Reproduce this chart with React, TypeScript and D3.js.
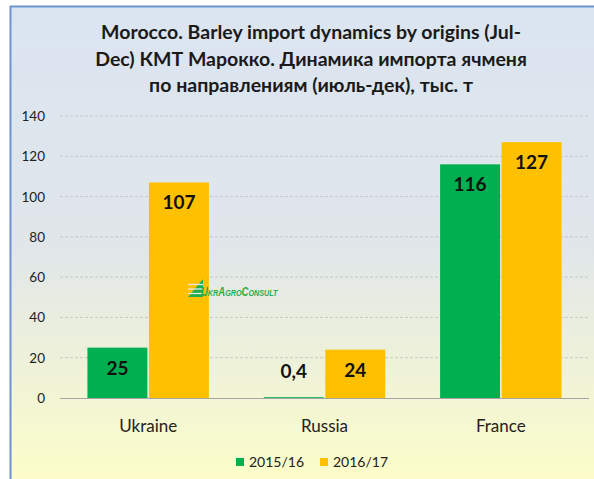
import React from "react";
import * as d3 from "d3";

const categories = ["Ukraine", "Russia", "France"];
const seriesNames = ["2015/16", "2016/17"];
const values2015 = [25, 0.4, 116];
const values2016 = [107, 24, 127];
const labels2015 = ["25", "0,4", "116"];
const labels2016 = ["107", "24", "127"];
const yTicks = [0, 20, 40, 60, 80, 100, 120, 140];
const titleLines = [
  "Morocco. Barley import dynamics by origins (Jul-",
  "Dec) КМТ Марокко. Динамика импорта ячменя",
  "по направлениям (июль-дек), тыс. т",
];
const colors = ["#00b050", "#ffc000"];

export default function App() {
  const W = 594, H = 479;
  const left = 60, right = 589, top = 116, bottom = 398;
  const x = d3.scaleBand<string>().domain(categories).range([left, right]).paddingInner(0).paddingOuter(0);
  const inner = d3.scaleBand<string>().domain(seriesNames).range([0, x.bandwidth()]).paddingInner(0.025).paddingOuter(0.446);
  const y = d3.scaleLinear().domain([0, 140]).range([bottom, top]);
  const series = [values2015, values2016];
  const labels = [labels2015, labels2016];
  const font = "Lato, 'Open Sans', sans-serif";

  return (
    <svg width={W} height={H} style={{ position: "absolute", left: 0, top: 0 }} fontFamily={font}>
      <defs>
        <linearGradient id="bg" x1="0" y1="0" x2="0" y2="1">
          <stop offset="0" stopColor="#dbe5f1" />
          <stop offset="0.5" stopColor="#e0e6ea" />
          <stop offset="1" stopColor="#fcfdc9" />
        </linearGradient>
      </defs>
      <rect x={10} y={6} width={W - 10} height={H - 6} fill="url(#bg)" />
      <line x1={10.5} y1={6} x2={10.5} y2={H} stroke="#6c93cf" strokeWidth={2} />
      <line x1={10} y1={6.5} x2={W} y2={6.5} stroke="#6c93cf" strokeWidth={2} />
      {titleLines.map((t, i) => (
        <text key={i} x={311} y={39 + i * 26.5} textAnchor="middle" fontSize={19.5} fontWeight="bold" fill="#1a1a1a">
          {t}
        </text>
      ))}
      {yTicks.map((t) => (
        <g key={t}>
          {t > 0 && (
            <line x1={left} x2={right} y1={y(t)} y2={y(t)} stroke="#c6c9cc" strokeDasharray="3,2" strokeWidth={1} />
          )}
          <text x={45} y={y(t) + 5} textAnchor="end" fontSize={13.5} fill="#222">
            {t}
          </text>
        </g>
      ))}
      {categories.map((c, ci) =>
        series.map((s, si) => {
          const bx = (x(c) as number) + (inner(seriesNames[si]) as number);
          const bw = inner.bandwidth();
          const v = s[ci];
          const labelY = y(v) + 27;
          return (
            <g key={c + si}>
              <rect x={bx} y={y(v)} width={bw} height={bottom - y(v)} fill={colors[si]} />
              <text x={bx + bw / 2} y={v < 5 ? y(24) + 28 : labelY} textAnchor="middle" fontSize={19} fontWeight="bold" fill="#111">
                {labels[si][ci]}
              </text>
            </g>
          );
        })
      )}
      <line x1={left} x2={right} y1={bottom + 0.5} y2={bottom + 0.5} stroke="#a6a6a6" strokeWidth={1} />
      {categories.map((c) => (
        <text key={c} x={(x(c) as number) + x.bandwidth() / 2} y={432} textAnchor="middle" fontSize={17} fill="#222">
          {c}
        </text>
      ))}
      <g transform="translate(188,279)">
        <polygon points="0,18 15,0 15,18" fill="#1fae4a" />
        {[4, 8.5, 13].map((yy) => (
          <line key={yy} x1={0} x2={15} y1={yy + 1.5} y2={yy + 1.5} stroke="#e3e8ee" strokeWidth={1.3} />
        ))}
        <g transform="translate(13,17) scale(0.76,1)">
          <text x={0} y={0} fontSize={12.5} fontWeight="bold" fontStyle="italic" fill="#1fae4a" fontFamily="'Liberation Sans', sans-serif">
            U<tspan fontSize={9.5}>KR</tspan>A<tspan fontSize={9.5}>GRO</tspan>C<tspan fontSize={9.5}>ONSULT</tspan>
          </text>
        </g>
      </g>
      {seriesNames.map((n, i) => (
        <g key={n} transform={`translate(236,458)`}>
          <rect x={i * 84} y={0} width={8} height={8} fill={colors[i]} />
          <text x={i * 84 + 13} y={9} fontSize={14} fill="#222">{n}</text>
        </g>
      ))}
    </svg>
  );
}
